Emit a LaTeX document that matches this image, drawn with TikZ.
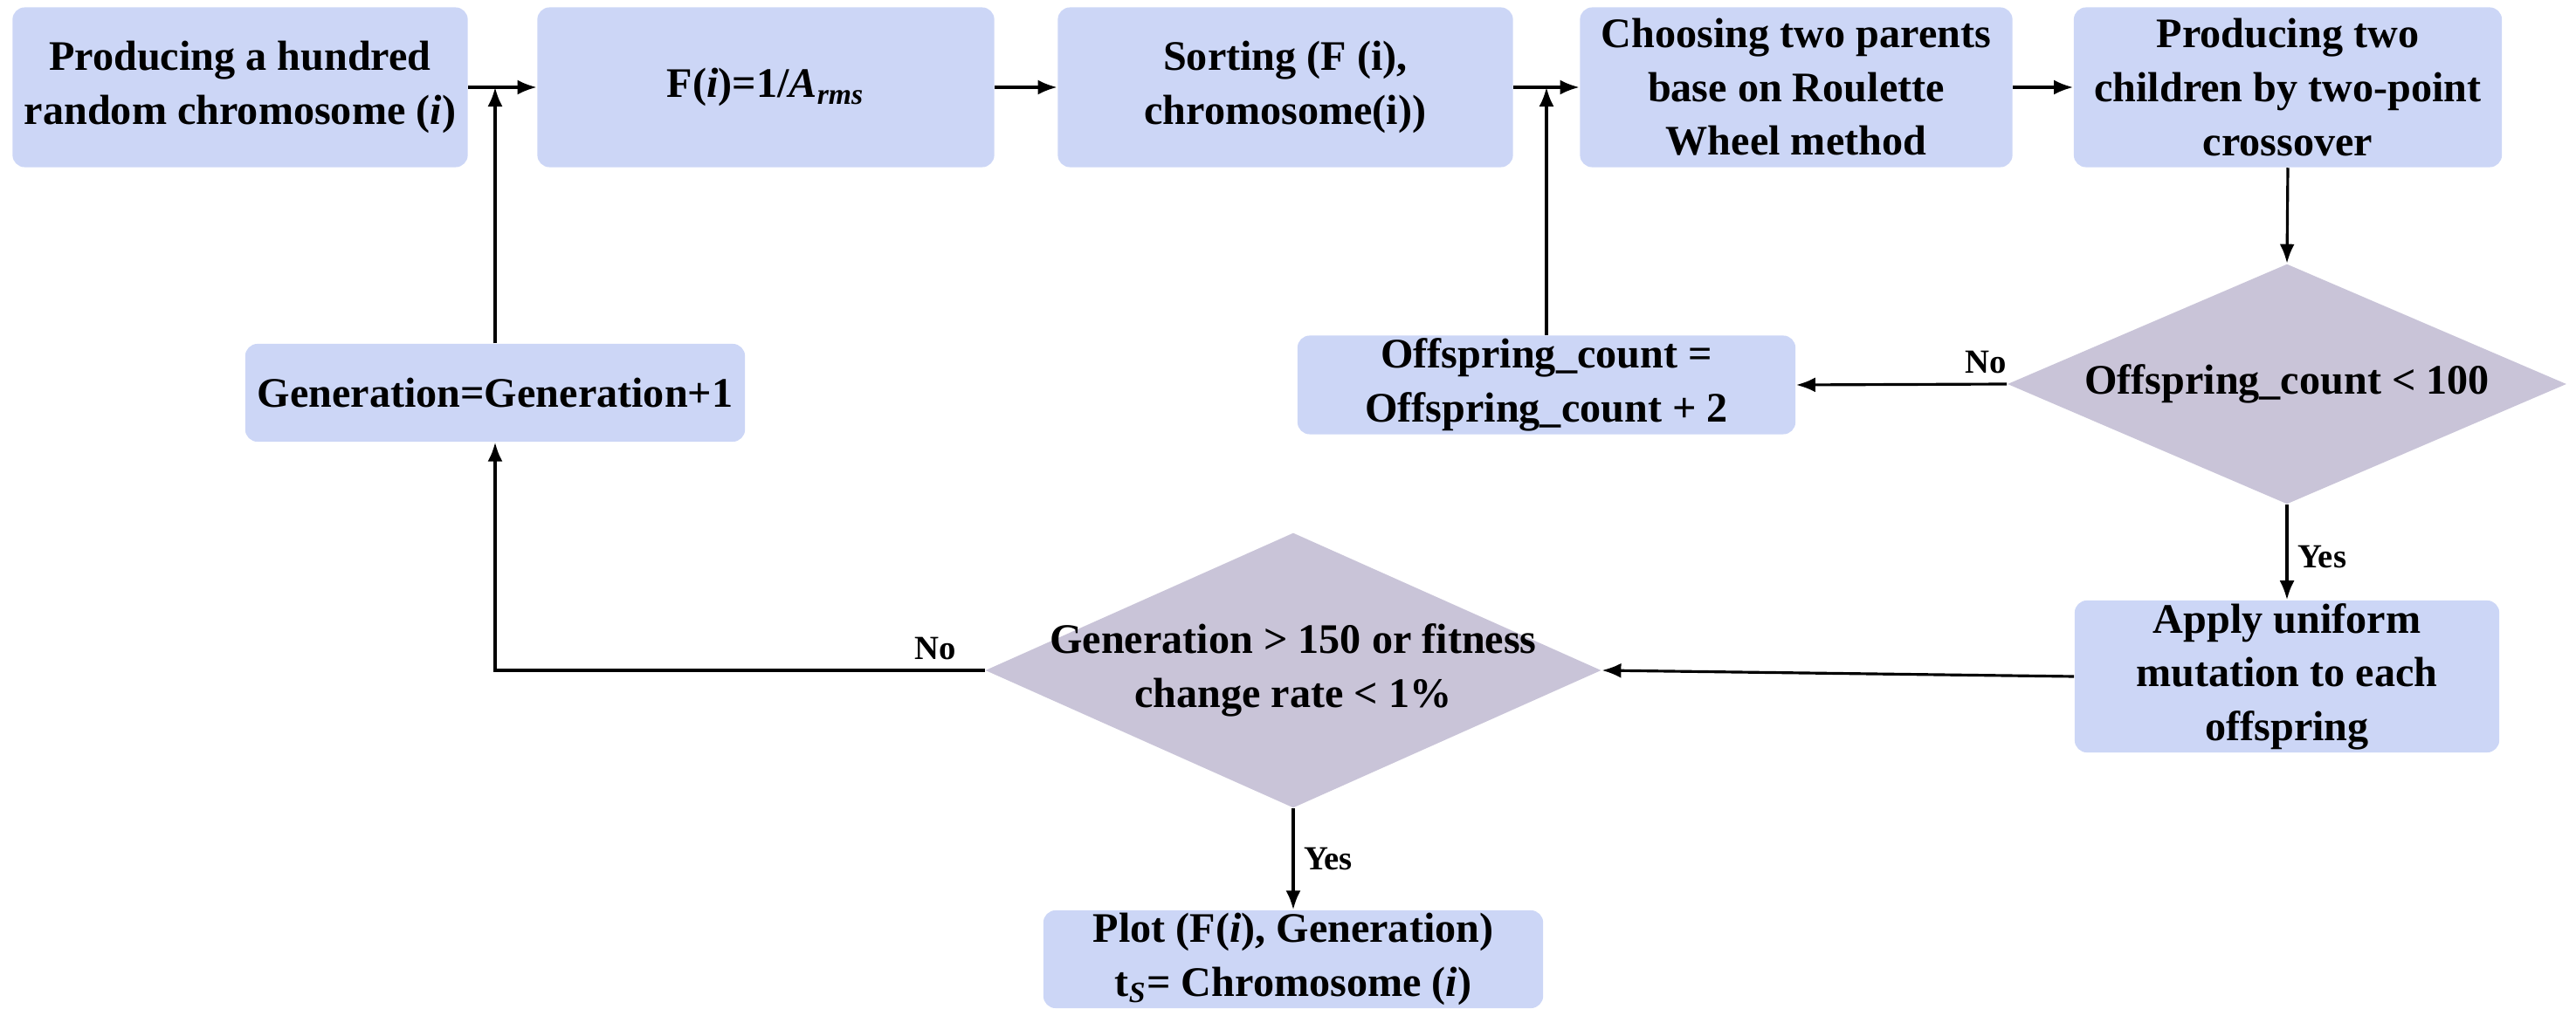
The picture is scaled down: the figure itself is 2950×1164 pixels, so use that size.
\documentclass[tikz,border=0pt]{standalone}
\usepackage{fontspec}
\setmainfont{Liberation Serif}
\usetikzlibrary{shapes.geometric,arrows.meta,calc}
\definecolor{boxblue}{RGB}{204,214,246}
\definecolor{diagray}{RGB}{201,196,216}
\begin{document}
\begin{tikzpicture}[x=0.01cm,y=-0.01cm,
  box/.style={draw=none, fill=boxblue, rounded corners=0.14cm, align=center,
    font=\fontsize{13.7}{17.5}\selectfont\bfseries, inner sep=0pt},
  dia/.style={diamond, draw=none, fill=diagray, inner sep=0pt},
  dtext/.style={align=center, font=\fontsize{13.7}{17.5}\selectfont\bfseries, inner sep=0pt},
  arr/.style={draw=black, line width=0.9pt, -{Latex[length=0.22cm,width=0.17cm]}},
  lab/.style={font=\fontsize{11}{13}\selectfont\bfseries, inner sep=3pt}]
\useasboundingbox (0,0) rectangle (2950,1164);

% top row
\node[box, minimum width=5.21cm, minimum height=1.83cm] (b1) at (275,100)
  {Producing a hundred\\random chromosome (\textit{i})};
\node[box, minimum width=5.23cm, minimum height=1.83cm] (b2) at (877,100)
  {F(\textit{i})=1/\textit{A}\textsubscript{\textit{rms}}};
\node[box, minimum width=5.21cm, minimum height=1.83cm] (b3) at (1472,100)
  {Sorting (F (i),\\chromosome(i))};
\node[box, minimum width=4.95cm, minimum height=1.83cm] (b4) at (2057,100)
  {Choosing two parents\\base on Roulette\\Wheel method};
\node[box, minimum width=4.90cm, minimum height=1.83cm] (b5) at (2620,100)
  {Producing two\\children by two-point\\crossover};

% middle
\node[dia, minimum width=6.40cm, minimum height=2.75cm] (d1) at (2619,440) {};
\node[dtext] (d1t) at (d1.center) {Offspring\_count < 100};
\node[box, minimum width=5.70cm, minimum height=1.13cm] (off) at (1771,441)
  {Offspring\_count =\\Offspring\_count + 2};
\node[box, minimum width=5.72cm, minimum height=1.12cm] (gen) at (567,450)
  {Generation=Generation+1};

% lower
\node[box, minimum width=4.86cm, minimum height=1.74cm] (apply) at (2619,775)
  {Apply uniform\\mutation to each\\offspring};
\node[dia, minimum width=7.05cm, minimum height=3.15cm] (d2) at (1481,768) {};
\node[dtext] (d2t) at (d2.center) {Generation > 150 or fitness\\change rate < 1\%};
\node[box, minimum width=5.72cm, minimum height=1.12cm] (plot) at (1481,1099)
  {Plot (F(\textit{i}), Generation)\\t\textsubscript{\textit{S}}= Chromosome (\textit{i})};

% junctions
\coordinate (j1) at (567,100);
\coordinate (j2) at (1771,100);
\coordinate (c1) at (567,768);

% connectors
\draw[arr] (b1.east) -- (b2.west);
\draw[arr] (b2.east) -- (b3.west);
\draw[arr] (b3.east) -- (b4.west);
\draw[arr] (b4.east) -- (b5.west);
\draw[arr] (b5.south) -- (d1.north);
\draw[arr] (d1.west) -- node[lab, pos=0.1, above] (no1) {No} (off.east);
\draw[arr] (off.north) -- (j2);
\draw[arr] (d1.south) -- node[lab, pos=0.55, right] (yes1) {Yes} (apply.north);
\draw[arr] (apply.west) -- (d2.east);
\draw[arr] (d2.west) -- node[lab, pos=0.1, above] (no2) {No} (c1) -- (gen.south);
\draw[arr] (gen.north) -- (j1);
\draw[arr] (d2.south) -- node[lab, pos=0.5, right] (yes2) {Yes} (plot.north);
\end{tikzpicture}
\end{document}
